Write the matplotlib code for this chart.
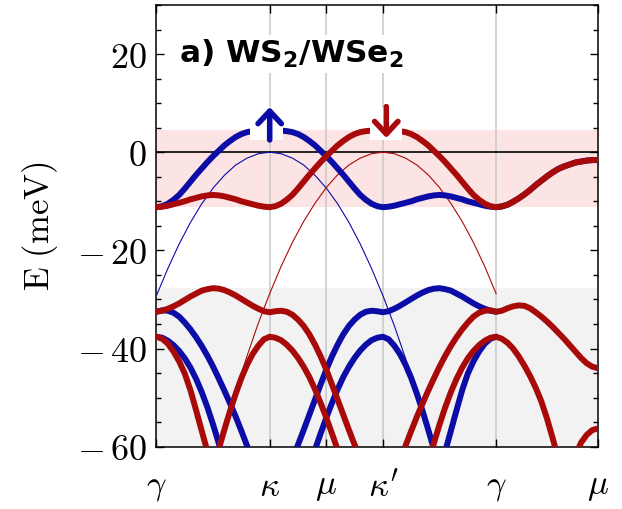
import numpy as np
import matplotlib
matplotlib.use("Agg")
import matplotlib.pyplot as plt
from matplotlib.patches import Rectangle
from matplotlib.ticker import MultipleLocator

plt.rcParams["mathtext.fontset"] = "cm"
plt.rcParams["font.family"] = ["DejaVu Serif"]

# ---------------------------------------------------------------------------
# High-symmetry path of the moire Brillouin zone (units of |gamma-kappa|)
# ---------------------------------------------------------------------------
path_ticks = [0.0, 1.0, 1.5, 2.0, 3.0, 3.9]
path_labels = [r"$\gamma$", r"$\kappa$", r"$\mu$", r"$\kappa'$", r"$\gamma$", r"$\mu$"]
energy_ticks = [20, 0, -20, -40, -60]
energy_labels = [r"$20$", r"$0$", r"$-\,20$", r"$-\,40$", r"$-\,60$"]

STEP = 0.05       # k-sampling of the moire bands
STEP_FREE = 0.1   # k-sampling of the bare parabolas

# ---------------------------------------------------------------------------
# Band energies (meV). Each list starts at the k value given in its *_k0.
# ---------------------------------------------------------------------------
# topmost moire band, spin up, gamma -> kappa -> mu -> kappa' -> gamma -> mu
up_top_k0 = 0.0
up_top = [-11.2, -11.0, -10.5, -9.7, -8.7, -7.4, -6.0, -4.6, -3.3, -2.0, -0.8,
          0.3, 1.4, 2.3, 3.1, 3.7, 4.1, 4.3, 4.4, 4.48, 4.5,
          4.48, 4.4, 4.3, 4.1, 3.7, 3.1, 2.3, 1.4, 0.3, -0.8,
          -2.0, -3.3, -4.6, -6.0, -7.4, -8.7, -9.7, -10.5, -11.0, -11.2,
          -11.1, -10.9, -10.6, -10.3, -10.0, -9.6, -9.3, -9.0, -8.8, -8.7,
          -8.8, -9.0, -9.3, -9.6, -10.0, -10.3, -10.6, -10.9, -11.1, -11.2,
          -11.05, -10.7, -10.1, -9.4, -8.6, -7.7, -6.7, -5.8, -4.9, -4.1,
          -3.4, -2.9, -2.5, -2.1, -1.9, -1.7, -1.6, -1.6]

# topmost moire band, spin down
down_top_k0 = 0.0
down_top = [-11.2, -11.1, -10.9, -10.6, -10.3, -10.0, -9.6, -9.3, -9.0, -8.8, -8.7,
            -8.8, -9.0, -9.3, -9.6, -10.0, -10.3, -10.6, -10.9, -11.1, -11.2,
            -11.0, -10.5, -9.7, -8.7, -7.4, -6.0, -4.6, -3.3, -2.0, -0.8,
            0.3, 1.4, 2.3, 3.1, 3.7, 4.1, 4.3, 4.4, 4.48, 4.5,
            4.48, 4.4, 4.3, 4.1, 3.7, 3.1, 2.3, 1.4, 0.3, -0.8,
            -2.0, -3.3, -4.6, -6.0, -7.4, -8.7, -9.7, -10.5, -11.0, -11.2,
            -11.05, -10.7, -10.1, -9.4, -8.6, -7.7, -6.7, -5.8, -4.9, -4.1,
            -3.4, -2.9, -2.5, -2.1, -1.9, -1.7, -1.6, -1.6]

# bare valence-band parabolas without moire potential
up_free_k0 = 0.0
up_free = [-29.2, -23.7, -18.7, -14.3, -10.5, -7.3, -4.7, -2.6, -1.2, -0.3, 0.0,
           -0.3, -1.2, -2.6, -4.7, -7.3, -10.5, -14.3, -18.7, -23.7, -29.2,
           -35.3, -42.0, -49.3]
down_free_k0 = 0.7
down_free = [-48.7, -41.5, -34.8, -28.8, -23.3, -18.4, -14.1, -10.4, -7.2, -4.6,
             -2.6, -1.2, -0.3, 0.0, -0.3, -1.2, -2.6, -4.6, -7.2, -10.4,
             -14.1, -18.4, -23.3, -28.8]

# deeper moire bands, spin up
up_b2a_k0 = 0.0
up_b2a = [-32.5, -32.2, -32.3, -32.7, -33.5, -34.7, -36.1, -37.7, -39.5, -41.5,
          -43.7, -46.1, -48.6, -51.2, -53.9, -56.8, -59.8, -62.9]
up_b2b_k0 = 1.2
up_b2b = [-62.6, -59.6, -56.6, -53.5, -50.4, -47.3, -44.3, -41.6, -39.2, -37.1,
          -35.4, -34.1, -33.1, -32.5, -32.3, -32.4, -32.6, -32.4, -31.9, -31.3,
          -30.6, -29.9, -29.2, -28.6, -28.1, -27.8, -27.7, -27.9, -28.2, -28.8,
          -29.4, -30.1, -30.8, -31.4, -31.9, -32.3, -32.5]
up_b3a_k0 = 0.0
up_b3a = [-37.6, -37.8, -38.4, -39.3, -40.5, -42.0, -43.9, -46.2, -48.9, -52.0,
          -55.5, -59.3, -63.3]
up_b3b_k0 = 1.35
up_b3b = [-64.0, -60.6, -57.3, -54.1, -51.1, -48.3, -45.8, -43.7, -41.9, -40.4,
          -39.2, -38.3, -37.8, -37.6, -38.1, -39.4, -41.1, -43.3, -46.0, -49.2,
          -52.7, -56.5, -60.5, -65.0]
up_b3c_k0 = 2.5
up_b3c = [-65.2, -61.0, -56.8, -52.6, -48.5, -45.1, -42.6, -40.6, -39.0, -38.0, -37.6]

# deeper moire bands, spin down
down_b2a_k0 = 0.0
down_b2a = [-32.5, -32.3, -31.9, -31.4, -30.8, -30.1, -29.4, -28.8, -28.2, -27.9,
            -27.7, -27.8, -28.1, -28.6, -29.2, -29.9, -30.6, -31.3, -31.9, -32.4,
            -32.6, -32.4, -32.3, -32.5, -33.1, -34.1, -35.4, -37.1, -39.2, -41.6,
            -44.3, -47.3, -50.4, -53.5, -56.6, -59.6, -62.6]
down_b2b_k0 = 2.15
down_b2b = [-62.9, -59.8, -56.8, -53.9, -51.2, -48.6, -46.1, -43.7, -41.5, -39.5,
            -37.7, -36.1, -34.7, -33.5, -32.7, -32.3, -32.2, -32.5,
            -32.3, -31.8, -31.4, -31.2, -31.3, -31.8, -32.6, -33.5, -34.5, -35.6,
            -36.8, -38.0, -39.3, -40.6, -41.9, -43.0, -43.7, -44.0]
down_b3a_k0 = 0.0
down_b3a = [-37.6, -38.0, -39.0, -40.6, -42.6, -45.1, -48.5, -52.6, -56.8, -61.0, -65.2]
down_b3b_k0 = 0.5
down_b3b = [-65.0, -60.5, -56.5, -52.7, -49.2, -46.0, -43.3, -41.1, -39.4, -38.1,
            -37.6, -37.8, -38.3, -39.2, -40.4, -41.9, -43.7, -45.8, -48.3, -51.1,
            -54.1, -57.3, -60.6, -64.0]
down_b3c_k0 = 2.4
down_b3c = [-63.3, -59.3, -55.5, -52.0, -48.9, -46.2, -43.9, -42.0, -40.5, -39.3,
            -38.4, -37.8, -37.6, -38.0, -38.8, -40.0, -41.6, -43.5, -45.6, -48.0,
            -50.8, -54.3, -58.3, -62.6]
down_b3d_k0 = 3.65
down_b3d = [-65.0, -61.8, -59.2, -57.6, -56.6, -56.3]

BLUE = "#0c0ca6"
RED = "#a80a0a"


def kgrid(k0, values, step=STEP):
    return k0 + step * np.arange(len(values))


fig = plt.figure(figsize=(6.22, 5.09), dpi=100)
ax = fig.add_axes([0.2516, 0.1224, 0.7098, 0.8678])
ax.set_xlim(path_ticks[0], path_ticks[-1])
ax.set_ylim(-60, 30)

# shaded energy windows of the top band and of the deeper bands
ax.axhspan(min(up_top), max(up_top), color="#fde4e4", lw=0, zorder=0)
ax.axhspan(-60, max(down_b2a), color="#f2f2f2", lw=0, zorder=0)

for k in path_ticks[1:-1]:
    ax.axvline(k, color="#c8c8c8", lw=1.1, zorder=1)
ax.axhline(0, color="black", lw=1.2, zorder=2)

# bare parabolas
ax.plot(kgrid(up_free_k0, up_free, STEP_FREE), up_free, color=BLUE, lw=0.8, zorder=3)
ax.plot(kgrid(down_free_k0, down_free, STEP_FREE), down_free, color=RED, lw=0.8, zorder=3)

# moire bands
thick = dict(lw=4.3, solid_capstyle="round", solid_joinstyle="round")
for k0, e in [(up_top_k0, up_top), (up_b2a_k0, up_b2a), (up_b2b_k0, up_b2b),
              (up_b3a_k0, up_b3a), (up_b3b_k0, up_b3b), (up_b3c_k0, up_b3c)]:
    ax.plot(kgrid(k0, e), e, color=BLUE, zorder=4, **thick)
for k0, e in [(down_top_k0, down_top), (down_b2a_k0, down_b2a), (down_b2b_k0, down_b2b),
              (down_b3a_k0, down_b3a), (down_b3b_k0, down_b3b), (down_b3c_k0, down_b3c),
              (down_b3d_k0, down_b3d)]:
    ax.plot(kgrid(k0, e), e, color=RED, zorder=5, **thick)

# spin arrows at the valley maxima
ax.add_patch(Rectangle((0.826, 2.5), 0.294, 6.8, fc="white", ec="none", zorder=6))
ax.add_patch(Rectangle((1.886, 2.5), 0.28, 6.8, fc="white", ec="none", zorder=6))
ax.annotate("", xy=(1.0, 9.2), xytext=(1.0, 2.5), zorder=7,
            arrowprops=dict(arrowstyle="->,head_length=0.45,head_width=0.42",
                            lw=4, color=BLUE, shrinkA=0, shrinkB=0, mutation_scale=20))
ax.annotate("", xy=(2.03, 2.9), xytext=(2.03, 9.3), zorder=7,
            arrowprops=dict(arrowstyle="->,head_length=0.45,head_width=0.42",
                            lw=4, color=RED, shrinkA=0, shrinkB=0, mutation_scale=20))

ax.text(0.2, 18.2, r"a) WS$_\mathbf{2}$/WSe$_\mathbf{2}$", fontfamily="DejaVu Sans",
        fontweight="bold", fontsize=22.5, math_fontfamily="dejavusans",
        va="baseline", ha="left", zorder=6,
        bbox=dict(fc="white", ec="none", boxstyle="square,pad=0.1"))

ax.set_xticks(path_ticks)
ax.set_xticklabels(path_labels, fontsize=25)
ax.set_yticks(energy_ticks)
ax.set_yticklabels(energy_labels, fontsize=26)
ax.yaxis.set_minor_locator(MultipleLocator(5))
ax.tick_params(which="both", direction="in", top=True, right=True, width=1.0)
ax.tick_params(which="major", length=6)
ax.tick_params(which="minor", length=3.6)
ax.tick_params(axis="x", pad=16)
ax.tick_params(axis="y", pad=7)
ax.set_ylabel(r"$\mathrm{E\ (meV)}$", fontsize=25, labelpad=12)
for s in ax.spines.values():
    s.set_linewidth(1.1)

fig.savefig("out.png", dpi=100)
